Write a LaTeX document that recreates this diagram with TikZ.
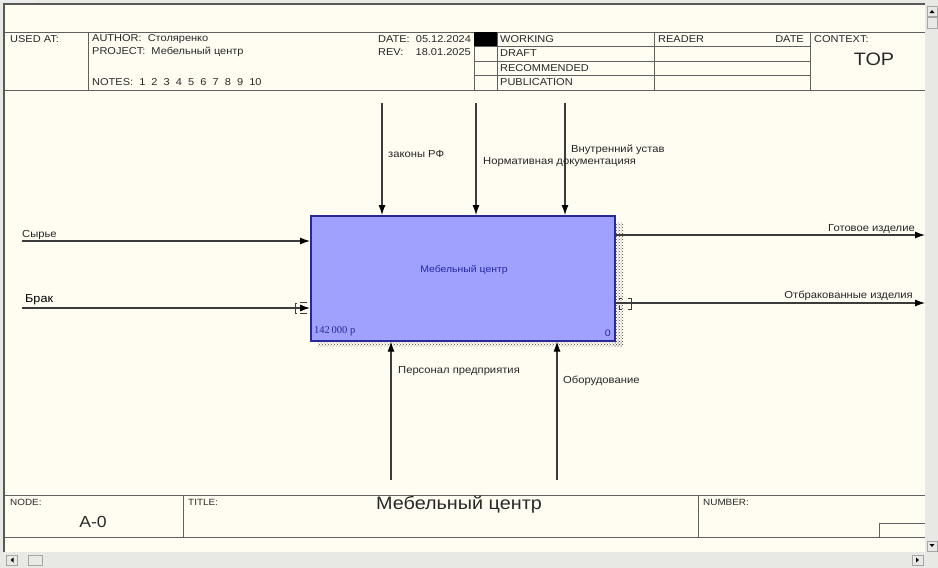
\documentclass[tikz,border=0pt]{standalone}
\usepackage{fontspec}
\setmainfont[FakeStretch=1.1]{Liberation Sans}
\newfontfamily\serifface{Liberation Serif}
\usetikzlibrary{arrows.meta,patterns}
\definecolor{canvas}{RGB}{255,252,242}
\definecolor{winbg}{RGB}{232,232,228}
\definecolor{frameln}{RGB}{96,96,96}
\definecolor{arrln}{RGB}{60,60,60}
\definecolor{boxfill}{RGB}{160,160,255}
\definecolor{boxline}{RGB}{40,40,150}
\definecolor{boxtext}{RGB}{40,40,170}
\definecolor{hdrtext}{RGB}{40,40,40}
\tikzset{
  frame/.style={draw=frameln, line width=1pt},
  hdr/.style={anchor=west, inner sep=0pt, font=\fontsize{10}{11}\selectfont, text=hdrtext},
  small/.style={anchor=west, inner sep=0pt, font=\fontsize{9}{10}\selectfont, text=hdrtext},
  lbl/.style={anchor=west, inner sep=0pt, font=\fontsize{10.2}{11}\selectfont, text=black!85},
  flow/.style={draw=arrln, line width=1.1pt, -{Latex[length=10pt,width=7pt,color=black]}},
  tunnel/.style={draw=arrln, line width=0.7pt},
  sbtn/.style={draw=gray!70, fill=winbg, line width=0.5pt},
}
\begin{document}
\begin{tikzpicture}[x=1pt,y=-1pt]
\useasboundingbox (0,0) rectangle (938,568);
% window
\fill[winbg] (0,0) rectangle (938,568);
\fill[gray!15] (0,0) rectangle (35,2);
\fill[canvas] (5,5) rectangle (925,552);
\draw[gray!70!black, line width=1.2pt] (4,552) -- (4,4) -- (925,4);
% scrollbars
\draw[sbtn] (927,6) rectangle (937,16);
\fill[black] (929.5,13) -- (934.5,13) -- (932,10) -- cycle;
\draw[sbtn] (927,17) rectangle (937,28);
\draw[sbtn] (927,541) rectangle (937,551);
\fill[black] (929.5,544) -- (934.5,544) -- (932,547) -- cycle;
\draw[sbtn] (6,555) rectangle (17,565);
\fill[black] (13.5,557.5) -- (13.5,562.5) -- (10.5,560) -- cycle;
\draw[sbtn] (28,555) rectangle (42,565);
\draw[sbtn] (912,555) rectangle (923,565);
\fill[black] (916,557.5) -- (916,562.5) -- (919,560) -- cycle;

% ---------- header ----------
\draw[frame] (5,32) -- (925,32);
\draw[frame] (5,90) -- (925,90);
\draw[frame] (88,32) -- (88,90);
\draw[frame] (474,32) -- (474,90);
\draw[frame] (497,32) -- (497,90);
\draw[frame] (654,32) -- (654,90);
\draw[frame] (810,32) -- (810,90);
\draw[frame] (474,46) -- (810,46);
\draw[frame] (474,61) -- (810,61);
\draw[frame] (474,75) -- (810,75);
\fill[black] (474,32) rectangle (497,46);
\node[hdr] (usedat) at (10,39) {USED AT:};
\node[hdr] (author) at (92,39) {AUTHOR:\ \ Столяренко};
\node[hdr] (project) at (92,52) {PROJECT:\ \ Мебельный центр};
\node[hdr] (notes) at (92,82) {NOTES:\ \ 1\ \ 2\ \ 3\ \ 4\ \ 5\ \ 6\ \ 7\ \ 8\ \ 9\ \ 10};
\node[hdr] (date) at (378,39) {DATE:\ \ 05.12.2024};
\node[hdr] (rev) at (378,52) {REV:\ \ \ \ 18.01.2025};
\node[hdr] (working) at (500,39) {WORKING};
\node[hdr] (draft) at (500,53) {DRAFT};
\node[hdr] (recommended) at (500,68) {RECOMMENDED};
\node[hdr] (publication) at (500,82) {PUBLICATION};
\node[hdr] (reader) at (658,39) {READER};
\node[hdr, anchor=east] (rdate) at (804,39) {DATE};
\node[hdr] (context) at (814,39) {CONTEXT:};
\node[inner sep=0pt, font=\fontsize{18}{20}\selectfont, text=hdrtext] (top) at (874,59) {TOP};

% ---------- footer ----------
\draw[frame] (5,495) -- (925,495);
\draw[frame] (5,537) -- (925,537);
\draw[frame] (183,495) -- (183,537);
\draw[frame] (698,495) -- (698,537);
\draw[frame] (879,537) -- (879,523) -- (925,523);
\node[small] (nodelbl) at (10,502) {NODE:};
\node[small] (titlelbl) at (188,502) {TITLE:};
\node[small] (numberlbl) at (703,502) {NUMBER:};
\node[inner sep=0pt, font=\fontsize{16}{18}\selectfont, text=hdrtext] (nodeval) at (93,522) {A-0};
\node[inner sep=0pt, font=\fontsize{18}{20}\selectfont, text=hdrtext] (titleval) at (459,505) {Мебельный центр};

% ---------- activity box ----------
\fill[pattern=crosshatch dots, pattern color=gray!60!black] (614,222) rectangle (623,346);
\fill[pattern=crosshatch dots, pattern color=gray!60!black] (318,340) rectangle (623,346);
\node[draw=boxline, fill=boxfill, line width=1.6pt, minimum width=304pt, minimum height=125pt, inner sep=0pt, anchor=north west] (fn) at (310,215) {};
\node[inner sep=0pt, font=\fontsize{9.5}{11}\selectfont, text=boxtext] (fnname) at (464,270) {Мебельный центр};
\node[inner sep=0pt, anchor=west, font=\serifface\fontsize{10.5}{12}\selectfont, text=boxline] (cost) at (314,331) {142\,000 р};
\node[inner sep=0pt, anchor=east, font=\fontsize{9.5}{10}\selectfont, text=boxline] (fnnum) at (611,333) {0};

% ---------- controls ----------
\coordinate (c1) at (382,103);
\coordinate (c2) at (476,103);
\coordinate (c3) at (565,103);
\draw[flow] (c1) -- (c1 |- fn.north);
\draw[flow] (c2) -- (c2 |- fn.north);
\draw[flow] (c3) -- (c3 |- fn.north);
\node[lbl] (lc1) at (388,154) {законы РФ};
\node[lbl] (lc2) at (483,162) {Нормативная документацияя};
\node[lbl] (lc3) at (571,150) {Внутренний устав};

% ---------- inputs ----------
\coordinate (i1) at (22,241);
\coordinate (i2) at (22,308);
\draw[flow] (i1) -- (i1 -| fn.west);
\draw[flow] (i2) -- (i2 -| fn.west);
\node[lbl] (li1) at (22,235) {Сырье};
\node[anchor=west, inner sep=0pt, font=\fontsize{11.5}{13}\selectfont] (li2) at (25,300) {Брак};
\draw[tunnel] (297,303) -- (295,303) -- (295,313) -- (297,313);
\draw[tunnel] (300,302.5) -- (307,302.5);
\draw[tunnel] (300,313.5) -- (307,313.5);

% ---------- outputs ----------
\coordinate (o1) at (925,235);
\coordinate (o2) at (925,303);
\draw[flow] (fn.east |- o1) -- (o1);
\draw[flow] (fn.east |- o2) -- (o2);
\node[lbl, anchor=east] (lo1) at (915,229) {Готовое изделие};
\node[lbl, anchor=east] (lo2) at (913,296) {Отбракованные изделия};
\draw[tunnel] (622,298) -- (619,298) -- (619,300);
\draw[tunnel] (619,306) -- (619,309) -- (622,309);
\draw[tunnel] (628,298) -- (631,298) -- (631,309) -- (628,309);

% ---------- mechanisms ----------
\coordinate (m1) at (391,480);
\coordinate (m2) at (557,480);
\draw[flow] (m1) -- (m1 |- fn.south);
\draw[flow] (m2) -- (m2 |- fn.south);
\node[lbl] (lm1) at (398,371) {Персонал предприятия};
\node[lbl] (lm2) at (563,381) {Оборудование};
\end{tikzpicture}
\end{document}
